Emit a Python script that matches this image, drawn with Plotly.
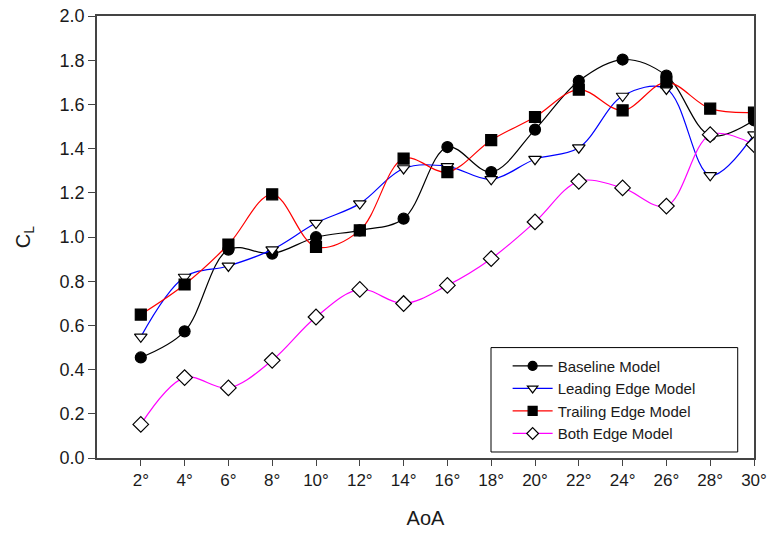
import plotly.graph_objects as go

# Angle of attack (degrees)
aoa = [2, 4, 6, 8, 10, 12, 14, 16, 18, 20, 22, 24, 26, 28, 30]
aoa_labels = [f"{a}°" for a in aoa]

# Lift coefficient per model
cl_baseline = [0.455, 0.573, 0.943, 0.925, 0.999, 1.03, 1.083, 1.407, 1.294, 1.486,
               1.706, 1.803, 1.73, 1.46, 1.528]
cl_leading = [0.548, 0.819, 0.869, 0.943, 1.063, 1.151, 1.31, 1.32, 1.261, 1.352,
              1.404, 1.638, 1.67, 1.279, 1.463]
cl_trailing = [0.649, 0.785, 0.966, 1.193, 0.955, 1.03, 1.355, 1.294, 1.438, 1.543,
               1.667, 1.573, 1.70, 1.581, 1.563]
cl_both = [0.152, 0.364, 0.317, 0.442, 0.638, 0.763, 0.699, 0.781, 0.902, 1.068,
           1.252, 1.222, 1.140, 1.463, 1.418]

series = [
    ("Baseline Model", cl_baseline, "#000000", "circle", "#000000", 11),
    ("Leading Edge Model", cl_leading, "#0000FF", "triangle-down", "#FFFFFF", 11),
    ("Trailing Edge Model", cl_trailing, "#FF0000", "square", "#000000", 11),
    ("Both Edge Model", cl_both, "#FF00FF", "diamond", "#FFFFFF", 12),
]

fig = go.Figure()
for name, vals, color, symbol, fill, size in series:
    fig.add_trace(go.Scatter(
        x=aoa, y=vals, name=name, mode="lines+markers", showlegend=False,
        line=dict(color=color, width=1.2, shape="spline", smoothing=1.0),
        marker=dict(symbol=symbol, size=size, color=fill,
                    line=dict(color="#000000", width=1.2)),
    ))
# Legend entries with smaller symbols than the plotted markers
for name, vals, color, symbol, fill, size in series:
    fig.add_trace(go.Scatter(
        x=[None], y=[None], name=name, mode="lines+markers",
        line=dict(color=color, width=1.2),
        marker=dict(symbol=symbol, size=9, color=fill,
                    line=dict(color="#000000", width=1.2)),
    ))

font_family = "Liberation Sans, Arial, sans-serif"

# Framed legend box
fig.add_shape(type="rect", xref="paper", yref="paper",
              x0=0.5997, x1=0.9752, y0=0.0136, y1=0.2498,
              line=dict(color="#000000", width=1), fillcolor="white", layer="below")

fig.update_layout(
    width=767, height=534,
    margin=dict(l=97, r=13, t=16, b=76),
    paper_bgcolor="white", plot_bgcolor="white",
    font=dict(family=font_family, size=17, color="#1a1a1a"),
    showlegend=True,
    legend=dict(
        x=0.625, y=0.245, xanchor="left", yanchor="top",
        borderwidth=0, bgcolor="rgba(0,0,0,0)",
        font=dict(size=15, color="#1a1a1a"),
        itemwidth=40,
    ),
)

fig.update_xaxes(
    range=[0, 30], tickvals=aoa, ticktext=aoa_labels,
    showline=True, linecolor="#444444", linewidth=1.5, mirror=True,
    ticks="outside", ticklen=6, tickcolor="#444444", tickwidth=1.2,
    showgrid=False, zeroline=False, automargin=False,
    title=dict(text="AoA", font=dict(size=20), standoff=22),
    tickfont=dict(size=17),
)
fig.update_yaxes(
    range=[0, 2.0], tickvals=[0, 0.2, 0.4, 0.6, 0.8, 1.0, 1.2, 1.4, 1.6, 1.8, 2.0],
    tickformat=".1f",
    showline=True, linecolor="#444444", linewidth=1.5, mirror=True,
    ticks="outside", ticklen=7, tickcolor="#444444", tickwidth=1.2,
    showgrid=False, zeroline=False, automargin=False,
    title=dict(text="C<sub>L</sub>", font=dict(size=20), standoff=24),
    tickfont=dict(size=18),
)

fig.write_html("out.html")
